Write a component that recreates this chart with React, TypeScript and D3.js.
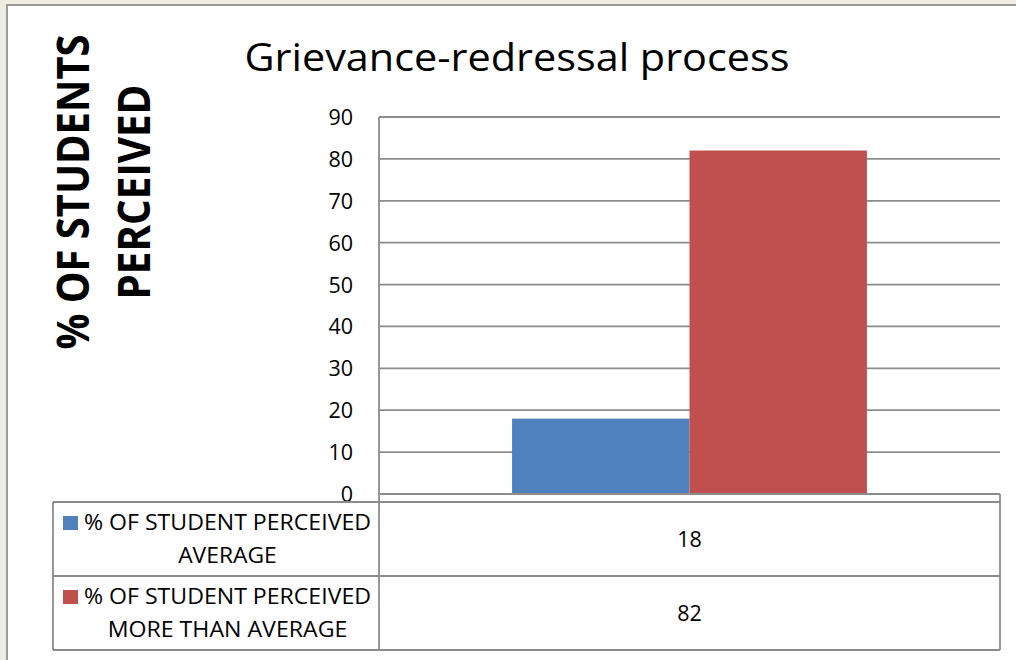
import React from "react";
import * as d3 from "d3";

const chartTitle = "Grievance-redressal process";
const yTitleLines = ["% OF STUDENTS", "PERCEIVED"];
const category = ["Grievance-redressal process"];
const seriesNames = [
  "% OF STUDENT PERCEIVED AVERAGE",
  "% OF STUDENT PERCEIVED MORE THAN AVERAGE",
];
const seriesLegendLines = [
  ["% OF STUDENT PERCEIVED", "AVERAGE"],
  ["% OF STUDENT PERCEIVED", "MORE THAN AVERAGE"],
];
const seriesValues = [18, 82];
const seriesColors = ["#4F81BD", "#C0504D"];
const yTicks = [0, 10, 20, 30, 40, 50, 60, 70, 80, 90];

const W = 1016;
const H = 660;
const plotLeft = 379;
const plotRight = 1000;
const plotTop = 117;
const plotBottom = 494;
const tableTop = 502;
const rowH = 74;
const tableLeft = 53;
const FONT = "'Open Sans', 'Noto Sans', sans-serif";
const GRID = "#8c8c8c";

// approximate widths of the second legend lines in the picture
const secondLineWidth = (s: string) => s.length * 14.1;

export default function App() {
  const y = d3.scaleLinear().domain([0, 90]).range([plotBottom, plotTop]);
  const x0 = d3
    .scaleBand<string>()
    .domain(category)
    .range([plotLeft, plotRight])
    .paddingInner(0)
    .paddingOuter(0.375);
  const x1 = d3
    .scaleBand<string>()
    .domain(seriesNames)
    .range([0, x0.bandwidth()]);

  const rows = seriesNames.map((name, i) => ({
    name,
    top: tableTop + i * rowH,
    value: seriesValues[i],
    color: seriesColors[i],
    lines: seriesLegendLines[i],
  }));
  const tableBottom = tableTop + rows.length * rowH;
  const legendCenter = 227.5;

  return (
    <svg
      width={W}
      height={H}
      style={{ position: "absolute", left: 0, top: 0, display: "block" }}
      fontFamily={FONT}
    >
      <rect x={0} y={0} width={W} height={H} fill="#EEECE1" />
      <rect x={7} y={5} width={W + 10} height={H + 10} fill="#ffffff" stroke="#9a9a9a" strokeWidth={2} />

      {/* Title */}
      <text
        x={517}
        y={71}
        textAnchor="middle"
        fontSize={39}
        fill="#000"
        textLength={545}
        lengthAdjust="spacingAndGlyphs"
      >
        {chartTitle}
      </text>

      {/* Y axis title */}
      <text
        transform={`translate(89,192) rotate(-90)`}
        textAnchor="middle"
        fontSize={44}
        fontWeight="bold"
        textLength={315}
        lengthAdjust="spacingAndGlyphs"
      >
        {yTitleLines[0]}
      </text>
      <text
        transform={`translate(150,192) rotate(-90)`}
        textAnchor="middle"
        fontSize={44}
        fontWeight="bold"
        textLength={215}
        lengthAdjust="spacingAndGlyphs"
      >
        {yTitleLines[1]}
      </text>

      {/* Gridlines */}
      {yTicks.map((t) => (
        <line
          key={t}
          x1={plotLeft}
          x2={plotRight}
          y1={y(t)}
          y2={y(t)}
          stroke={GRID}
          strokeWidth={1.8}
        />
      ))}
      {/* Tick labels */}
      {yTicks.map((t) => (
        <text key={"l" + t} x={353} y={y(t) + 8} textAnchor="end" fontSize={21.5} fill="#000">
          {t}
        </text>
      ))}

      {/* Bars */}
      {rows.map((r) => (
        <rect
          key={r.name}
          x={(x0(category[0]) as number) + (x1(r.name) as number)}
          y={y(r.value)}
          width={x1.bandwidth()}
          height={y(0) - y(r.value)}
          fill={r.color}
        />
      ))}

      {/* Axes */}
      <line x1={plotLeft} x2={plotLeft} y1={plotTop} y2={tableBottom} stroke={GRID} strokeWidth={1.8} />
      <line x1={plotLeft} x2={plotRight} y1={plotBottom} y2={plotBottom} stroke={GRID} strokeWidth={1.8} />

      {/* Data table */}
      <line x1={plotRight} x2={plotRight} y1={plotBottom} y2={tableBottom} stroke={GRID} strokeWidth={1.8} />
      <line x1={tableLeft} x2={tableLeft} y1={tableTop} y2={tableBottom} stroke={GRID} strokeWidth={1.8} />
      <line x1={tableLeft} x2={plotRight} y1={tableTop} y2={tableTop} stroke={GRID} strokeWidth={1.8} />
      {rows.map((r) => (
        <g key={"row" + r.name}>
          <line
            x1={tableLeft}
            x2={plotRight}
            y1={r.top + rowH}
            y2={r.top + rowH}
            stroke={GRID}
            strokeWidth={1.8}
          />
          <rect x={63} y={r.top + 14} width={15} height={14} fill={r.color} />
          <text
            x={legendCenter}
            y={r.top + 28}
            textAnchor="middle"
            fontSize={21}
            fill="#000"
            textLength={287}
            lengthAdjust="spacingAndGlyphs"
          >
            {r.lines[0]}
          </text>
          <text
            x={legendCenter}
            y={r.top + 61}
            textAnchor="middle"
            fontSize={21}
            fill="#000"
            textLength={secondLineWidth(r.lines[1])}
            lengthAdjust="spacingAndGlyphs"
          >
            {r.lines[1]}
          </text>
          <text x={(plotLeft + plotRight) / 2} y={r.top + 45} textAnchor="middle" fontSize={21.5} fill="#000">
            {r.value}
          </text>
        </g>
      ))}
    </svg>
  );
}
